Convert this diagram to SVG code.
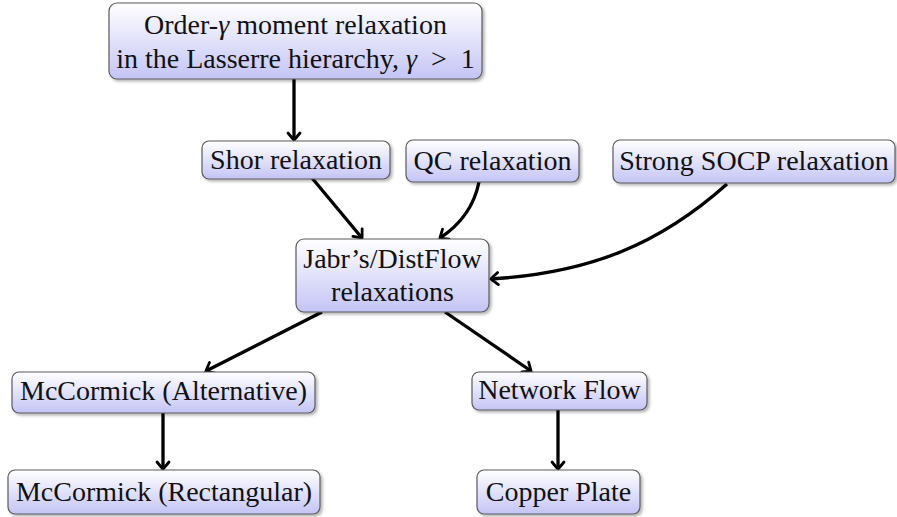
<svg xmlns="http://www.w3.org/2000/svg" width="897" height="517" viewBox="0 0 897 517">
<defs>
<linearGradient id="g" x1="0" y1="0" x2="0" y2="1">
<stop offset="0" stop-color="#ffffff"/>
<stop offset="1" stop-color="#c4c4f6"/>
</linearGradient>
<filter id="sh" x="-10%" y="-20%" width="120%" height="150%">
<feGaussianBlur in="SourceAlpha" stdDeviation="1.5"/>
<feOffset dx="1.5" dy="2" result="b"/>
<feComponentTransfer><feFuncA type="linear" slope="0.3"/></feComponentTransfer>
<feMerge><feMergeNode/><feMergeNode in="SourceGraphic"/></feMerge>
</filter>
<marker id="arr" viewBox="-9 -8 11 16" refX="0" refY="0" markerWidth="11" markerHeight="16" markerUnits="userSpaceOnUse" orient="auto">
<path d="M-7,-6 Q-1.5,-1.5 0,0 Q-1.5,1.5 -7,6" fill="none" stroke="#000" stroke-width="2.8" stroke-linecap="round"/>
</marker>
</defs>
<style>
.box{fill:url(#g);stroke:#5a5a5a;stroke-width:1.2;filter:url(#sh)}
.t{font-family:"Liberation Serif","Times New Roman",serif;font-size:28px;fill:#111;text-anchor:middle}
.m{font-style:italic}
.c{fill:none;stroke:#000;stroke-width:3.3;marker-end:url(#arr)}
</style>
<g id="connectors">
<path class="c" d="M294,79 L294,140"/>
<path class="c" d="M312,178 L362,238"/>
<path class="c" d="M479,182 Q472,217 440,238"/>
<path class="c" d="M727,184 C660,244 590,273 491,279"/>
<path class="c" d="M322,312 L206,371"/>
<path class="c" d="M445,312 L531,371"/>
<path class="c" d="M163,413 L163,469"/>
<path class="c" d="M558,410 L558,469"/>
</g>
<g id="n-lasserre">
<rect class="box" x="109" y="3" width="373" height="76" rx="8"/>
<text class="t" x="295.5" y="34">Order-<tspan class="m">γ</tspan> moment relaxation</text>
<text class="t" x="295.5" y="68" xml:space="preserve">in the Lasserre hierarchy, <tspan class="m">γ</tspan>  &gt;  1</text>
</g>
<g id="n-shor">
<rect class="box" x="202" y="141" width="188" height="38" rx="7"/>
<text class="t" x="296" y="169">Shor relaxation</text>
</g>
<g id="n-qc">
<rect class="box" x="406" y="140" width="173" height="42" rx="7"/>
<text class="t" x="492.5" y="170">QC relaxation</text>
</g>
<g id="n-socp">
<rect class="box" x="613" y="140" width="282" height="43" rx="7"/>
<text class="t" x="754" y="170">Strong SOCP relaxation</text>
</g>
<g id="n-jabr">
<rect class="box" x="296" y="239" width="193" height="73" rx="8"/>
<text class="t" x="392.5" y="268">Jabr’s/DistFlow</text>
<text class="t" x="392.5" y="301">relaxations</text>
</g>
<g id="n-mcalt">
<rect class="box" x="12" y="372" width="303" height="41" rx="7"/>
<text class="t" x="163.5" y="400">McCormick (Alternative)</text>
</g>
<g id="n-network">
<rect class="box" x="472" y="372" width="175" height="38" rx="7"/>
<text class="t" x="559.5" y="399">Network Flow</text>
</g>
<g id="n-mcrect">
<rect class="box" x="8" y="470" width="312" height="44" rx="7"/>
<text class="t" x="164" y="501">McCormick (Rectangular)</text>
</g>
<g id="n-copper">
<rect class="box" x="477" y="470" width="163" height="44" rx="7"/>
<text class="t" x="558.5" y="501">Copper Plate</text>
</g>
</svg>
